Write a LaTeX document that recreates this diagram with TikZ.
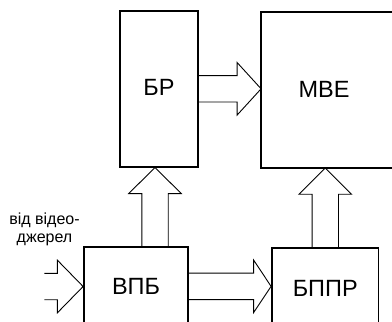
\documentclass[tikz,border=0pt]{standalone}
\usepackage{fontspec}
\setmainfont{Liberation Sans}
\usetikzlibrary{calc}
\newcommand\blkarr[3]{%
  \coordinate (ba-h) at ($(#2)!#3!(#1)$);
  \draw[blkarrow] ($(#1)!13.2pt!90:(#2)$) -- ($(ba-h)!13.2pt!90:(#2)$) -- ($(ba-h)!26.3pt!90:(#2)$) -- (#2)
    -- ($(ba-h)!26.3pt!-90:(#2)$) -- ($(ba-h)!13.2pt!-90:(#2)$) -- ($(#1)!13.2pt!-90:(#2)$);
}
\begin{document}
\begin{tikzpicture}[x=1pt,y=-1pt,
  box/.style={draw=black, line width=1.8pt, inner sep=0pt, font=\fontsize{23.5}{28}\selectfont},
  boxline/.style={draw=black, line width=1.8pt, line join=miter},
  blkarrow/.style={draw=black, line width=0.9pt, line join=miter},
  note/.style={align=center, inner sep=0pt, font=\fontsize{16}{18.4}\selectfont}]
\useasboundingbox (0,0) rectangle (392,322);
\coordinate (pageright) at (392,0);
\node[box, draw=none, minimum width=180, minimum height=154.5] (mve) at (352,89.75) {МВЕ\kern56pt};
\draw[boxline] (mve.north west -| pageright) -- (mve.north west) -- (mve.south west) -- (mve.south west -| pageright);
\node[box, minimum width=78, minimum height=155.7] (br) at (159,88.8) {\raisebox{3pt}{БР}};
\node[box, minimum width=104, minimum height=79.3] (vpb) at (136,286.35) {ВПБ};
\node[box, minimum width=106.5, minimum height=80.6] (bppr) at (325.25,288) {БППР};
\node[note] (src-label) at (44.5,229.5) {від відео-\\джерел};
% arrows
\coordinate (a1t) at (br.east);
\coordinate (a1h) at (a1t -| mve.west);
\blkarr{a1t}{a1h}{24pt}
\coordinate (a2h) at ($(br.south)+(-4,0)$);
\coordinate (a2t) at (a2h |- vpb.north);
\blkarr{a2t}{a2h}{26pt}
\coordinate (a3t) at (bppr.north);
\coordinate (a3h) at (a3t |- mve.south);
\blkarr{a3t}{a3h}{26.3pt}
\coordinate (a4t) at (vpb.east);
\coordinate (a4h) at (a4t -| bppr.west);
\blkarr{a4t}{a4h}{17.5pt}
\coordinate (src) at (44.3,286.5);
\coordinate (a5h) at (src -| vpb.west);
\blkarr{src}{a5h}{25.7pt}
\end{tikzpicture}
\end{document}
